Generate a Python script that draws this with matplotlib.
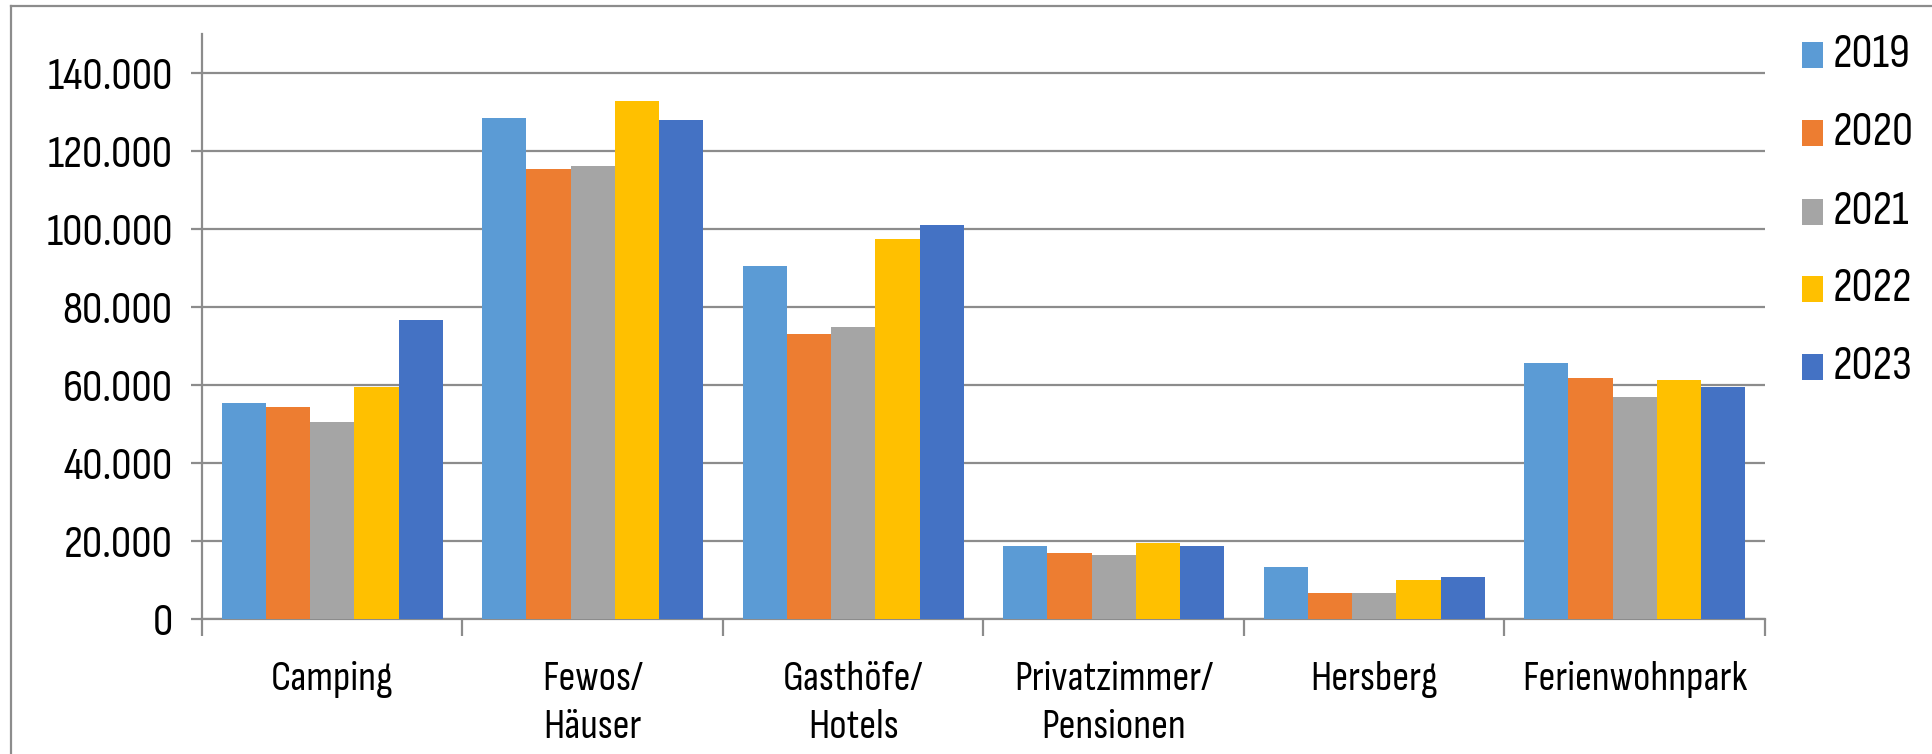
import matplotlib
matplotlib.use("Agg")
import matplotlib.pyplot as plt
import numpy as np
from matplotlib.patches import Rectangle
from matplotlib.lines import Line2D
from matplotlib.ticker import FuncFormatter, FixedLocator

plt.rcParams['font.family'] = ['Sofia Sans Condensed', 'DejaVu Sans']

categories = ["Camping", "Fewos/\nHäuser", "Gasthöfe/\nHotels", "Privatzimmer/\nPensionen", "Hersberg", "Ferienwohnpark"]
years = ["2019", "2020", "2021", "2022", "2023"]
colors = ["#5B9BD5", "#ED7D31", "#A5A5A5", "#FFC000", "#4472C4"]

v2019 = [55500, 128500, 90400, 18800, 13300, 65600]
v2020 = [54300, 115300, 73000, 17000, 6600, 61800]
v2021 = [50600, 116100, 74900, 16400, 6600, 56900]
v2022 = [59500, 132800, 97500, 19600, 10100, 61200]
v2023 = [76700, 127900, 101000, 18800, 10800, 59500]
series = [v2019, v2020, v2021, v2022, v2023]

W, H = 1933, 754
fig = plt.figure(figsize=(W / 100, H / 100), dpi=100)
fig.patch.set_facecolor("white")

def fx(px):
    return px / W

def fy(py):
    return 1 - py / H

ax = fig.add_axes([fx(202), fy(619), fx(1765) - fx(202), fy(34) - fy(619)])

grid_c = "#8C8C8C"
n = len(categories)
x = np.arange(n) + 0.5
bw = 0.17
for i, (vals, col) in enumerate(zip(series, colors)):
    ax.bar(x + (i - 2) * bw, vals, width=bw, color=col, edgecolor="none", zorder=3)

ax.set_xlim(0, n)
ax.set_ylim(0, 150000)
ax.yaxis.set_major_locator(FixedLocator(np.arange(0, 140001, 20000)))
ax.yaxis.set_major_formatter(FuncFormatter(lambda v, p: f"{int(v):,}".replace(",", ".")))
ax.grid(axis="y", color=grid_c, lw=1.6, zorder=1)
ax.set_axisbelow(True)

for s in ["top", "right"]:
    ax.spines[s].set_visible(False)
ax.spines["left"].set_color(grid_c)
ax.spines["left"].set_linewidth(1.6)
ax.spines["bottom"].set_color(grid_c)
ax.spines["bottom"].set_linewidth(1.6)

ax.tick_params(axis="y", direction="out", length=8, width=1.6, color=grid_c,
               labelsize=33, pad=13, labelcolor="black")
ax.set_xticks(x)
ax.set_xticklabels(categories, fontsize=30, linespacing=1.4)
ax.tick_params(axis="x", which="major", length=0, pad=30, labelcolor="black")
ax.xaxis.set_minor_locator(FixedLocator(np.arange(0, n + 1)))
ax.tick_params(axis="x", which="minor", direction="out", length=12, width=1.6, color=grid_c)

# legend
ys = [55, 133, 212, 289, 367]
for yy, yr, col in zip(ys, years, colors):
    fig.add_artist(Rectangle((fx(1802), fy(yy + 13)), fx(21), 26 / H, transform=fig.transFigure,
                             facecolor=col, edgecolor="none"))
    fig.text(fx(1833), fy(yy), yr, fontsize=34, va="center", ha="left")

# outer frame (left and top visible)
fig.add_artist(Line2D([fx(11), fx(11)], [0, fy(6)], transform=fig.transFigure, color="#8C8C8C", lw=1.6))
fig.add_artist(Line2D([fx(11), 1], [fy(6), fy(6)], transform=fig.transFigure, color="#8C8C8C", lw=1.6))

fig.savefig("out.png", dpi=100, facecolor="white")
